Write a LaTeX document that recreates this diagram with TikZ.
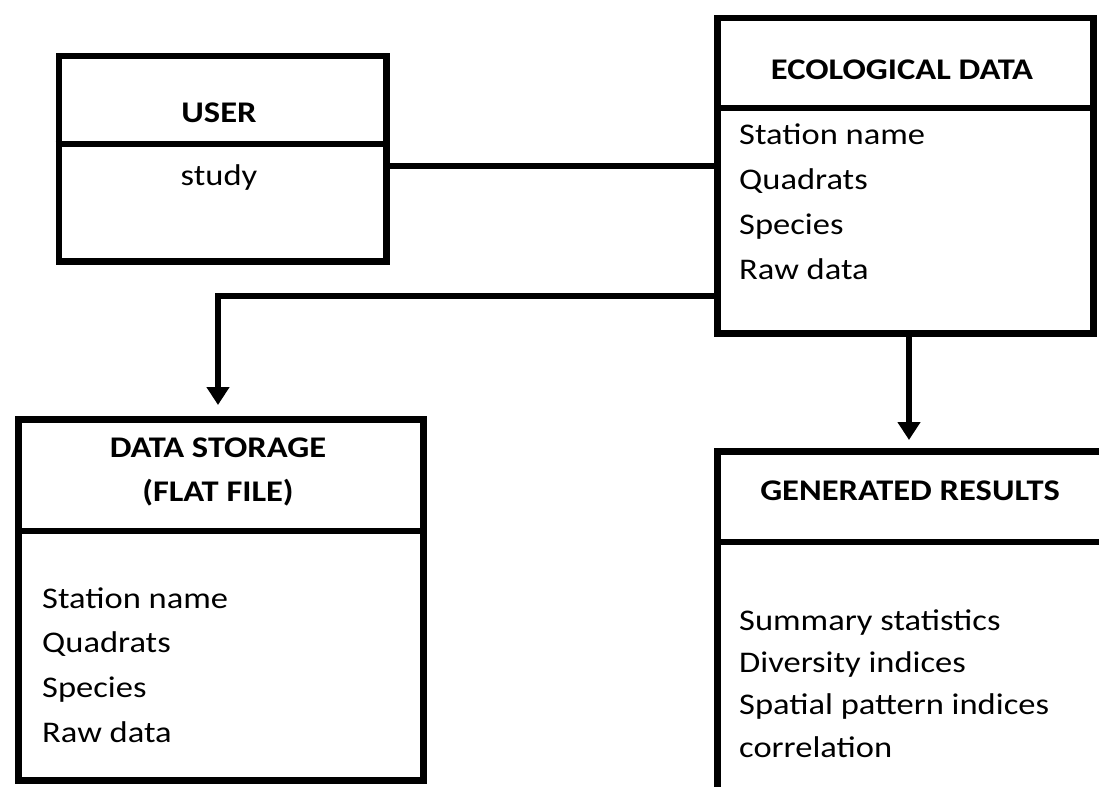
\documentclass[tikz,border=0pt]{standalone}
\usepackage{fontspec}
\setmainfont{Carlito}[FakeStretch=1.15]
\usetikzlibrary{arrows.meta}
\tikzset{
  box/.style={draw=black, line width=6.5bp, rectangle, inner sep=0pt, anchor=north west},
  divider/.style={line width=6.5bp},
  conn/.style={line width=6.5bp},
  arr/.style={line width=6.5bp, -{Triangle[width=22bp,length=18bp]}},
  title/.style={font=\fontsize{30bp}{36bp}\selectfont\bfseries, inner sep=0pt, anchor=base},
  item/.style={font=\fontsize{30bp}{36bp}\selectfont, inner sep=0pt, anchor=base west},
  itemc/.style={font=\fontsize{30bp}{36bp}\selectfont, inner sep=0pt, anchor=base},
}
\begin{document}
\begin{tikzpicture}[x=1bp,y=-1bp]
\useasboundingbox (0,0) rectangle (1099,787);
\clip (0,0) rectangle (1099,787);
% USER
\node[box, minimum width=327.5bp, minimum height=205bp] (user) at (55.5,53) {};
\draw[divider] (user.west |- 0,144) -- (user.east |- 0,144);
\node[title] (usert) at (219,122) {USER};
\node[itemc] (study) at (219,185) {study};
% ECOLOGICAL DATA
\node[box, minimum width=376bp, minimum height=315bp] (eco) at (714,15) {};
\draw[divider] (eco.west |- 0,108) -- (eco.east |- 0,108);
\node[title] (ecot) at (902,80) {ECOLOGICAL DATA};
\node[item] (e1) at (739,144) {Station name};
\node[item] (e2) at (739,189) {Quadrats};
\node[item] (e3) at (739,234) {Species};
\node[item] (e4) at (739,279) {Raw data};
% DATA STORAGE
\node[box, minimum width=405bp, minimum height=361bp] (store) at (15,416) {};
\draw[divider] (store.west |- 0,531) -- (store.east |- 0,531);
\node[title] (storet1) at (218,457) {DATA STORAGE};
\node[title] (storet2) at (218,501) {(FLAT FILE)};
\node[item] (s1) at (42,608) {Station name};
\node[item] (s2) at (42,652) {Quadrats};
\node[item] (s3) at (42,697) {Species};
\node[item] (s4) at (42,742) {Raw data};
% GENERATED RESULTS
\node[box, minimum width=396bp, minimum height=352bp] (gen) at (714,448) {};
\draw[divider] (gen.west |- 0,542) -- (gen.east |- 0,542);
\node[title] (gent) at (910,500) {GENERATED RESULTS};
\node[item] (g1) at (739,630) {Summary statistics};
\node[item] (g2) at (739,672) {Diversity indices};
\node[item] (g3) at (739,714) {Spatial pattern indices};
\node[item] (g4) at (739,757) {correlation};
% connectors
\coordinate (bend) at (218,296);
\draw[conn] (user.east |- 0,166) -- (eco.west |- 0,166);
\draw[arr] (eco.west |- bend) -- (bend) -- ([yshift=11bp]store.north -| bend);
\draw[arr] (eco.south -| 909,0) -- ([yshift=8bp]gen.north -| 909,0);
\end{tikzpicture}
\end{document}
